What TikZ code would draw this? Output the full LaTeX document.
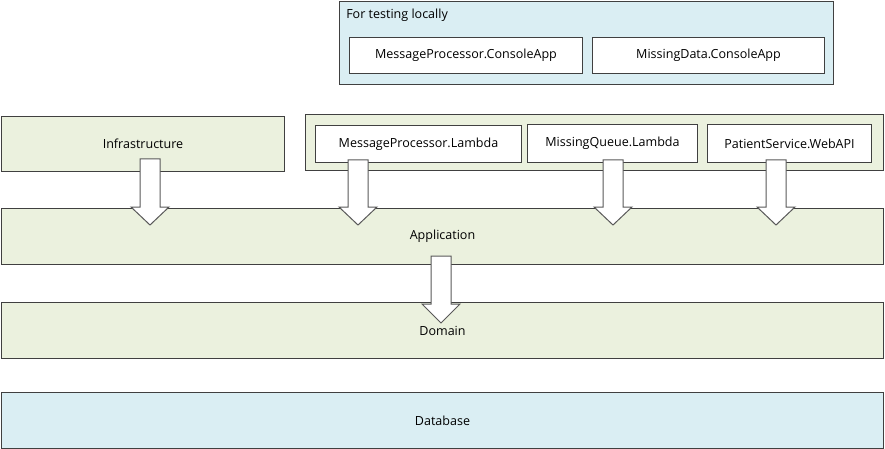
\documentclass[tikz,border=0pt]{standalone}
\usepackage{fontspec}
\setmainfont{Open Sans}
\definecolor{grn}{HTML}{EBF1DE}
\definecolor{blu}{HTML}{DAEEF3}
\definecolor{brd}{HTML}{404040}
\definecolor{abrd}{HTML}{595959}
\begin{document}
\begin{tikzpicture}[x=0.75pt,y=-0.75pt,
  box/.style={draw=brd,line width=0.75pt,inner sep=0pt,font=\fontsize{9.4}{11}\selectfont},
  gbox/.style={box,fill=grn},
  bbox/.style={box,fill=blu},
  wbox/.style={box,fill=white},
  blockarrow/.style={draw=abrd,fill=white,line width=0.75pt,line join=miter}]
\useasboundingbox (0,0) rectangle (885,449);
% top container
\node[bbox,minimum width=494*0.75pt,minimum height=83*0.75pt,anchor=north west] (test) at (339,1) {};
\node[font=\fontsize{9.4}{11}\selectfont,anchor=west,inner sep=0pt] (testlbl) at (346,15) {For testing locally};
\node[wbox,minimum width=233*0.75pt,minimum height=36*0.75pt,anchor=north west] (mpc) at (349,37) {MessageProcessor.ConsoleApp};
\node[wbox,minimum width=232*0.75pt,minimum height=36*0.75pt,anchor=north west] (mdc) at (592,37) {MissingData.ConsoleApp};
% second row
\node[gbox,minimum width=283*0.75pt,minimum height=55*0.75pt,anchor=north west] (infra) at (1,116) {Infrastructure};
\node[gbox,minimum width=578*0.75pt,minimum height=56*0.75pt,anchor=north west] (lam) at (305,114) {};
\node[wbox,minimum width=206*0.75pt,minimum height=37*0.75pt,anchor=north west] (mpl) at (315,125) {MessageProcessor.Lambda};
\node[wbox,minimum width=170*0.75pt,minimum height=38*0.75pt,anchor=north west] (mql) at (527,124) {MissingQueue.Lambda};
\node[wbox,minimum width=164*0.75pt,minimum height=38*0.75pt,anchor=north west] (psw) at (707,124) {PatientService.WebAPI};
% layers
\node[gbox,minimum width=882*0.75pt,minimum height=56*0.75pt,anchor=north west] (app) at (1,208) {Application};
\node[gbox,minimum width=882*0.75pt,minimum height=56*0.75pt,anchor=north west] (dom) at (1,302) {Domain};
\node[bbox,minimum width=882*0.75pt,minimum height=56*0.75pt,anchor=north west] (db) at (1,392) {Database};
% block arrows: center x, top y, head start y, tip y
\newcommand{\blkarrow}[4]{%
  \draw[blockarrow] (#1-10,#2) -- (#1+10,#2) -- (#1+10,#3) -- (#1+19,#3) -- (#1,#4) -- (#1-19,#3) -- (#1-10,#3) -- cycle;}
\blkarrow{150}{159}{207}{225}
\blkarrow{358}{160}{207}{225}
\blkarrow{613}{160}{207}{225}
\blkarrow{776}{160}{207}{225}
\blkarrow{441}{256}{304}{323}
\end{tikzpicture}
\end{document}
